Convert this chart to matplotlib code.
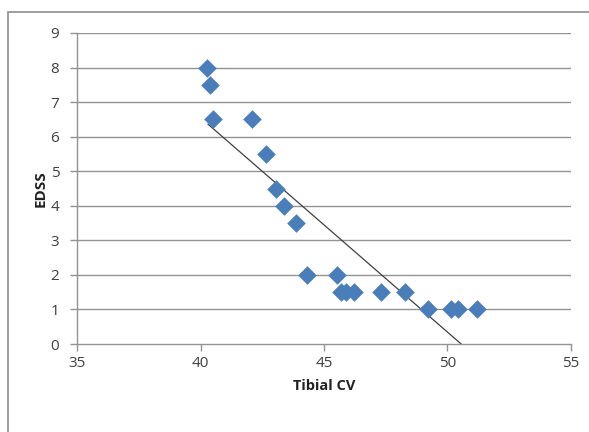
import matplotlib
matplotlib.use("Agg")
import matplotlib.pyplot as plt
import numpy as np

# Tibial CV vs EDSS
tibial_cv = [40.25, 40.37, 40.5, 42.1, 42.63, 43.07, 43.38, 43.85, 44.33,
             45.53, 45.7, 45.9, 46.2, 47.32, 48.27, 49.2, 50.16, 50.43, 51.19]
edss      = [8.0, 7.5, 6.5, 6.5, 5.5, 4.5, 4.0, 3.5, 2.0,
             2.0, 1.5, 1.5, 1.5, 1.5, 1.5, 1.0, 1.0, 1.0, 1.0]

# trendline ends as drawn in the picture
trend_x = [40.3, 50.56]
trend_y = [6.36, 0.0]

xticks = [35, 40, 45, 50, 55]
yticks = list(range(0, 10))

plt.rcParams['font.family'] = ['Open Sans', 'DejaVu Sans']

fig = plt.figure(figsize=(5.89, 4.32), dpi=100)
ax = fig.add_axes([77.3/589, 88/432, (570.7-77.3)/589, (344-33)/432])

# outer chart frame
fig.add_artist(plt.Rectangle((8/589, -0.1), 1.0, (432-12)/432 + 0.1,
                             transform=fig.transFigure, fill=False,
                             ec='#8c8c8c', lw=1.2))

for y in yticks[1:]:
    ax.axhline(y, color='#939393', lw=1.0, zorder=1)

ax.plot(trend_x, trend_y, color='#404040', lw=0.9, zorder=2)
ax.scatter(tibial_cv, edss, marker='D', s=90, color='#4a7ebb', zorder=3,
           linewidths=0)

ax.set_xlim(35, 55)
ax.set_ylim(0, 9)
ax.set_xticks(xticks)
ax.set_yticks(yticks)
for s in ['top', 'right']:
    ax.spines[s].set_visible(False)
for s in ['left', 'bottom']:
    ax.spines[s].set_color('#939393')
    ax.spines[s].set_linewidth(1.0)
ax.tick_params(colors='#939393', labelcolor='#404040', labelsize=11,
               length=5, width=1.0)
ax.tick_params(axis='y', pad=8)

ax.set_xlabel('Tibial CV', fontsize=10.5, fontweight='bold', color='#222222',
              labelpad=6)
ax.set_ylabel('EDSS', fontsize=11, fontweight='bold', color='#222222',
              labelpad=2)

fig.savefig('out.png', dpi=100)
